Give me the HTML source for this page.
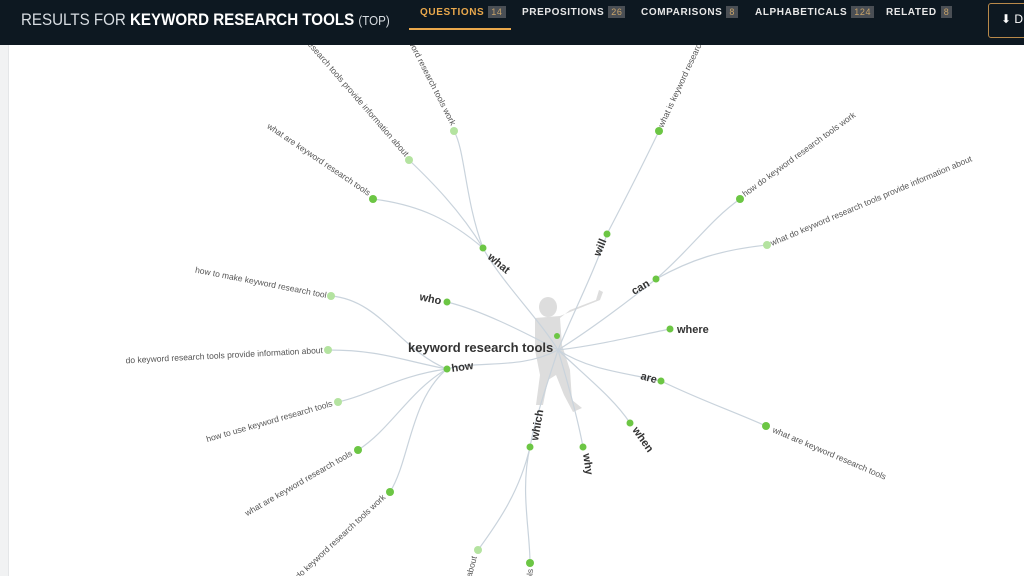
<!DOCTYPE html>
<html style="overflow:hidden"><head><meta charset="utf-8"><style>
html,body{margin:0;width:1024px;height:576px;overflow:hidden;}
body{background:#fff;font-family:"Liberation Sans",sans-serif;position:relative;}
.hdr{position:absolute;left:0;top:0;width:1024px;height:45px;background:#0d1821;overflow:hidden;}
.t{position:absolute;left:21px;top:10px;color:#d8dde2;font-size:17px;transform:scaleX(0.89);transform-origin:0 0;white-space:nowrap;}
.t b{color:#fff;}
.t small{font-size:13px;}
.tab{position:absolute;top:6px;color:#e8e8e8;font-size:10px;font-weight:bold;letter-spacing:.6px;}
.tab span{display:inline-block;background:#4a4f55;color:#c9a46a;font-weight:normal;padding:1px 3px;margin-left:4px;font-size:9px;}
.btn{position:absolute;left:988px;top:3px;width:50px;height:33px;border:1px solid #b8894a;border-radius:3px;color:#fff;font-size:12px;}
.side{position:absolute;left:0;top:45px;width:9px;height:531px;background:#f1f2f3;border-right:1px solid #e4e6e8;box-sizing:border-box;}
</style></head><body>
<div class="hdr">
<div class="t">RESULTS FOR <b>KEYWORD RESEARCH TOOLS</b> <small>(TOP)</small></div>
<div class="tab" style="left:420px;color:#e9a84c">QUESTIONS<span>14</span></div>
<div style="position:absolute;left:409px;top:28px;width:102px;height:2px;background:#e9a84c"></div>
<div class="tab" style="left:522px">PREPOSITIONS<span>26</span></div>
<div class="tab" style="left:641px">COMPARISONS<span>8</span></div>
<div class="tab" style="left:755px">ALPHABETICALS<span>124</span></div>
<div class="tab" style="left:886px">RELATED<span>8</span></div>
<div class="btn"><span style="position:absolute;left:12px;top:8px">⬇ D</span></div>
</div>
<div class="side"></div>
<svg width="1024" height="531" style="position:absolute;left:0;top:45px;display:block" viewBox="0 45 1024 531">
<g fill="#ddd">
<ellipse cx="548" cy="307" rx="9" ry="10"/>
<path d="M535 318 L560 316 L600 300 L603 292 L599 290 L596 300 L570 310 L560 318 L562 345 L570 370 L572 400 L582 408 L573 412 L564 395 L556 375 L548 380 L543 405 L536 405 L540 375 L535 350 Z"/>
</g>
<g fill="none" stroke="#c9d3dc" stroke-width="1.2">
<path d="M558 350 C540 320 500 280 483 248"/>
<path d="M558 350 C570 320 595 270 607 234"/>
<path d="M558 350 C590 330 630 300 656 279"/>
<path d="M558 350 C600 345 640 335 670 329"/>
<path d="M558 350 C590 370 620 372 661 381"/>
<path d="M558 350 C590 380 615 400 630 423"/>
<path d="M558 350 C570 390 578 420 583 447"/>
<path d="M558 350 C545 390 535 420 530 447"/>
<path d="M558 350 C520 370 480 360 447 369"/>
<path d="M558 350 C520 330 480 310 447 302"/>
<path d="M483 248 C450 220 420 205 373 199"/>
<path d="M483 248 C460 210 430 180 409 160"/>
<path d="M483 248 C465 200 465 150 454 131"/>
<path d="M607 234 C630 190 645 160 659 131"/>
<path d="M656 279 C690 250 710 220 740 199"/>
<path d="M656 279 C690 260 720 250 767 245"/>
<path d="M661 381 C700 400 730 410 766 426"/>
<path d="M447 369 C400 350 380 300 331 296"/>
<path d="M447 369 C400 360 380 350 328 350"/>
<path d="M447 369 C400 375 370 395 338 402"/>
<path d="M447 369 C410 390 390 430 358 450"/>
<path d="M447 369 C410 400 410 460 390 492"/>
<path d="M530 447 C520 490 500 520 478 550"/>
<path d="M530 447 C520 490 530 530 530 563"/>
</g>
<g fill="#6cc644">
<circle cx="557" cy="336" r="3"/>
<circle cx="483" cy="248" r="3.5"/><circle cx="607" cy="234" r="3.5"/><circle cx="656" cy="279" r="3.5"/>
<circle cx="670" cy="329" r="3.5"/><circle cx="661" cy="381" r="3.5"/><circle cx="630" cy="423" r="3.5"/>
<circle cx="583" cy="447" r="3.5"/><circle cx="530" cy="447" r="3.5"/><circle cx="447" cy="369" r="3.5"/><circle cx="447" cy="302" r="3.5"/>
<circle cx="373" cy="199" r="4"/><circle cx="659" cy="131" r="4"/><circle cx="740" cy="199" r="4"/>
<circle cx="766" cy="426" r="4"/><circle cx="358" cy="450" r="4"/><circle cx="390" cy="492" r="4"/><circle cx="530" cy="563" r="4"/>
</g>
<g fill="#b4e3a0">
<circle cx="409" cy="160" r="4"/><circle cx="454" cy="131" r="4"/><circle cx="767" cy="245" r="4"/>
<circle cx="331" cy="296" r="4"/><circle cx="328" cy="350" r="4"/><circle cx="338" cy="402" r="4"/><circle cx="478" cy="550" r="4"/>
</g>
<text x="408" y="352" font-size="13" font-weight="bold" fill="#333">keyword research tools</text>
<g font-size="11" font-weight="bold" fill="#333">
<text x="487" y="258" transform="rotate(40 487 258)">what</text>
<text x="600" y="257" transform="rotate(-68 600 257)">will</text>
<text x="634" y="295" transform="rotate(-30 634 295)">can</text>
<text x="677" y="333">where</text>
<text x="640" y="379" transform="rotate(15 640 379)">are</text>
<text x="632" y="430" transform="rotate(55 632 430)">when</text>
<text x="583" y="454" transform="rotate(82 583 454)">why</text>
<text x="538" y="441" transform="rotate(-80 538 441)">which</text>
<text x="452" y="372" transform="rotate(-8 452 372)">how</text>
<text x="419" y="300" transform="rotate(12 419 300)">who</text>
</g>
<g font-size="8.5" fill="#555">
<text x="368" y="196" text-anchor="end" transform="rotate(34 368 196)">what are keyword research tools</text>
<text x="405" y="157" text-anchor="end" transform="rotate(49 405 157)">what do keyword research tools provide information about</text>
<text x="451" y="126" text-anchor="end" transform="rotate(63 451 126)">how do keyword research tools work</text>
<text x="663" y="128" transform="rotate(-65 663 128)">what is keyword research</text>
<text x="745" y="197" transform="rotate(-36 745 197)">how do keyword research tools work</text>
<text x="772" y="246" transform="rotate(-23 772 246)">what do keyword research tools provide information about</text>
<text x="772" y="432" transform="rotate(23 772 432)">what are keyword research tools</text>
<text x="326" y="298" text-anchor="end" transform="rotate(11 326 298)">how to make keyword research tool</text>
<text x="323" y="353" text-anchor="end" transform="rotate(-3 323 353)">do keyword research tools provide information about</text>
<text x="333" y="406" text-anchor="end" transform="rotate(-16 333 406)">how to use keyword research tools</text>
<text x="353" y="455" text-anchor="end" transform="rotate(-30 353 455)">what are keyword research tools</text>
<text x="386" y="498" text-anchor="end" transform="rotate(-43 386 498)">how do keyword research tools work</text>
<text x="477" y="557" text-anchor="end" transform="rotate(-75 477 557)">which keyword research tools provide information about</text>
<text x="533" y="569" text-anchor="end" transform="rotate(-88 533 569)">which keyword research tools</text>
</g>
</svg>
</body></html>
